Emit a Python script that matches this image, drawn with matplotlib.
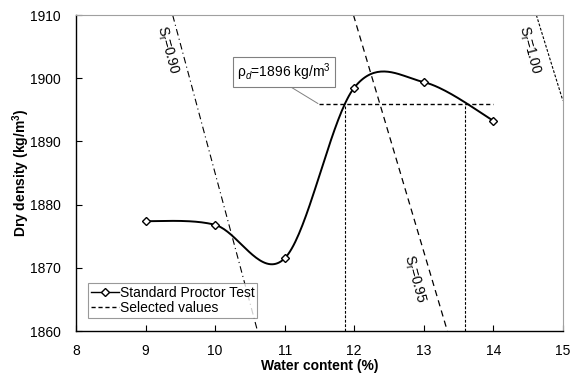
import numpy as np
import matplotlib
matplotlib.use("Agg")
import matplotlib.pyplot as plt

plt.rcParams['font.family'] = ['Liberation Sans', 'DejaVu Sans']
plt.rcParams['mathtext.fontset'] = 'custom'
plt.rcParams['mathtext.rm'] = 'Liberation Sans'
plt.rcParams['mathtext.it'] = 'Liberation Sans:italic'
plt.rcParams['mathtext.bf'] = 'Liberation Sans:bold'

# Standard Proctor test data
water = [9, 10, 11, 12, 13, 14]
density = [1877.4, 1876.8, 1871.5, 1898.5, 1899.4, 1893.3]

# selected values
rho_sel = 1896
w_sel = [11.87, 13.6]
h_span = [11.5, 14.0]

# saturation lines (end points)
sr090_x = [9.39, 10.61]
sr090_y = [1910, 1860]
sr095_x = [11.99, 13.34]
sr095_y = [1910, 1860]
sr100_x = [14.62, 15.0]
sr100_y = [1910, 1896.5]


def excel_smooth(x, y, n=40):
    # Excel-style smoothed line: cubic Bezier with 1/6 neighbour tangents
    x = np.asarray(x, float)
    y = np.asarray(y, float)
    px = np.concatenate([[x[0]], x, [x[-1]]])
    py = np.concatenate([[y[0]], y, [y[-1]]])
    xs, ys = [], []
    t = np.linspace(0, 1, n)
    for i in range(1, len(x)):
        p0 = np.array([px[i], py[i]])
        p3 = np.array([px[i + 1], py[i + 1]])
        c1 = p0 + (np.array([px[i + 1], py[i + 1]]) - np.array([px[i - 1], py[i - 1]])) / 6
        c2 = p3 - (np.array([px[i + 2], py[i + 2]]) - np.array([px[i], py[i]])) / 6
        b = ((1 - t) ** 3)[:, None] * p0 + (3 * (1 - t) ** 2 * t)[:, None] * c1 \
            + (3 * (1 - t) * t ** 2)[:, None] * c2 + (t ** 3)[:, None] * p3
        xs.extend(b[:, 0])
        ys.extend(b[:, 1])
    return np.array(xs), np.array(ys)


fig = plt.figure(figsize=(5.82, 3.78), dpi=100)
ax = fig.add_axes([0.1306, 0.1243, 0.8364, 0.8357])

sx, sy = excel_smooth(water, density)
ax.plot(sx, sy, color='black', lw=1.4, zorder=4)
ax.plot(water, density, ls='none', marker='D', ms=4.5, mfc='white', mec='black',
        mew=1.0, zorder=5)
# legend proxy
ax.plot([], [], color='black', lw=1.0, marker='D', ms=4, mfc='white', mec='black',
        label='Standard Proctor Test')

# selected values
ax.plot(h_span, [rho_sel, rho_sel], color='black', lw=1.0, ls=(0, (3, 2)), zorder=3,
        label='Selected values')
for w in w_sel:
    ax.plot([w, w], [1860, rho_sel], color='black', lw=0.8, ls=(0, (2.5, 1.5)), zorder=3)

# saturation lines
ax.plot(sr090_x, sr090_y, color='black', lw=0.8, ls=(0, (6, 3, 1, 3)))
ax.plot(sr095_x, sr095_y, color='black', lw=0.9, ls=(0, (5, 3.5)))
ax.plot(sr100_x, sr100_y, color='black', lw=0.8, ls=(0, (2.5, 1.5)))

ax.text(9.32, 1904.5, 'S$_\\mathrm{r}$=0.90', rotation=-75, ha='center', va='center', fontsize=10)
ax.text(12.87, 1868.2, 'S$_\\mathrm{r}$=0.95', rotation=-75, ha='center', va='center', fontsize=10)
ax.text(14.52, 1904.5, 'S$_\\mathrm{r}$=1.00', rotation=-75, ha='center', va='center', fontsize=10)

# callout
ax.annotate('ρ$_d$=1896 kg/m$^3$', xy=(11.48, rho_sel), xytext=(10.99, 1901.0),
            ha='center', va='center', fontsize=10,
            bbox=dict(boxstyle='square,pad=0.3', fc='white', ec='#808080', lw=0.8),
            arrowprops=dict(arrowstyle='-', color='#808080', lw=0.7,
                            shrinkA=0, shrinkB=0, relpos=(0.5, 0.0)))

ax.set_xlim(8, 15)
ax.set_ylim(1860, 1910)
ax.set_xticks(range(8, 16))
ax.set_yticks(range(1860, 1911, 10))
ax.tick_params(direction='in', labelsize=10, length=4, width=0.8)
ax.tick_params(axis='x', pad=9)
ax.tick_params(axis='y', pad=11)
for s in ['top', 'right']:
    ax.spines[s].set_color('#a0a0a0')
for s in ['left', 'bottom']:
    ax.spines[s].set_color('black')
    ax.spines[s].set_linewidth(1.0)

ax.set_xlabel('Water content (%)', fontsize=10, fontweight='bold', labelpad=1)
ax.set_ylabel('Dry density (kg/m$^\\mathbf{3}$)', fontsize=10, fontweight='bold')
ax.yaxis.set_label_coords(-0.091, 0.5)

leg = ax.legend(loc='lower left', bbox_to_anchor=(0.0246, 0.041), fontsize=10,
                frameon=True, fancybox=False, edgecolor='#808080', handlelength=2.0,
                handletextpad=0.1, borderpad=0.2, labelspacing=0.1, borderaxespad=0)
leg.get_frame().set_linewidth(0.8)

fig.savefig('out.png', dpi=100)
